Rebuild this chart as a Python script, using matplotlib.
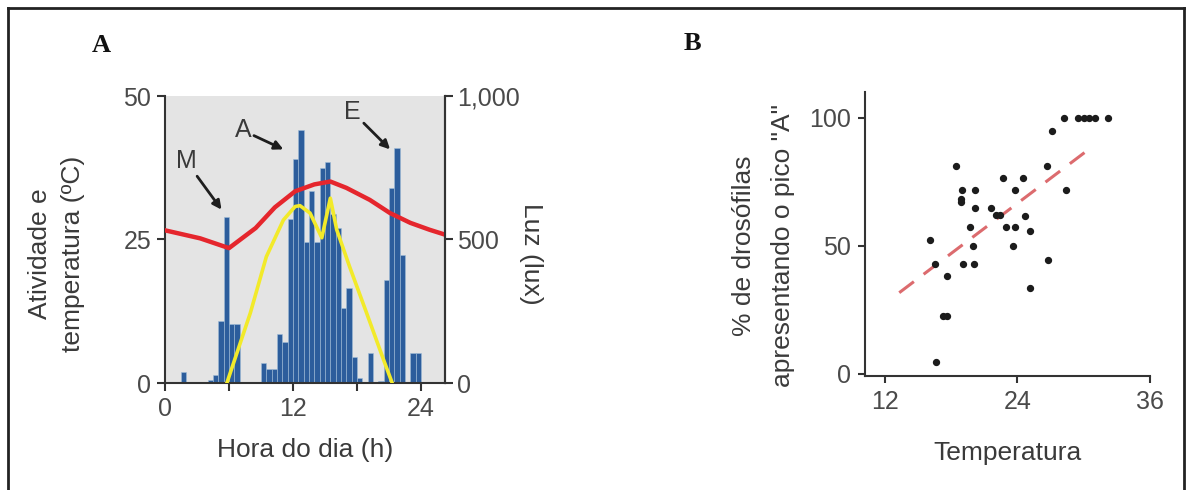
import matplotlib.pyplot as plt
from matplotlib.lines import Line2D
import numpy as np

plt.rcParams['font.family'] = ['Liberation Sans', 'DejaVu Sans']

# Panel A: activity histogram (0.5 h bins)
bin_starts = np.arange(0, 24.5, 0.5)
activity = [0, 0, 0, 2, 0, 0, 0, 0, 0.6, 1.4,
            10.8, 29, 10.2, 10.2, 0, 0, 0, 0, 3.5, 2.5,
            2.5, 8.5, 7.2, 28.5, 39, 44, 24.5, 33.5, 24.5, 37.5,
            38.5, 29.5, 27, 13, 16.5, 4.5, 0.8, 0, 5.2, 0,
            0.4, 18, 34, 41, 22.3, 0, 5.2, 5.2, 0]

# temperature (ºC)
temp_h = [0, 3.3, 6, 8.5, 10.3, 12.2, 14.0, 15.5, 17.0, 19.2, 21.1, 23.0, 24.8, 26.5]
temp_c = [26.6, 25.2, 23.5, 27.0, 30.6, 33.4, 34.6, 35.1, 34.0, 31.9, 29.6, 27.9, 26.7, 25.7]

# light (lux)
lux_h = [5.8, 8.0, 9.5, 11.1, 12.2, 12.65, 13.6, 14.7, 15.5, 16.1, 17.3, 18.9, 20.5, 21.3]
lux = [0, 244, 440, 568, 615, 618, 592, 506, 644, 534, 406, 244, 80, 0]

# Panel B: scatter
temp_b = [28.2, 29.5, 30.0, 30.5, 31.0, 32.2, 27.1, 18.4, 26.7, 22.7,
          24.5, 19.0, 20.2, 23.8, 28.4, 18.9, 18.9, 20.2, 21.6, 22.1,
          22.4, 24.7, 19.7, 23.0, 23.8, 25.1, 16.1, 20.0, 23.6, 26.8,
          16.5, 19.1, 20.1, 17.6, 25.1, 17.3, 17.6, 16.6]
pct_b = [100, 100, 100, 100, 100, 100, 94.6, 81, 81, 76.5,
         76.5, 71.9, 71.9, 71.9, 71.9, 68.4, 67, 64.6, 64.6, 62,
         62, 61.6, 57.5, 57.5, 57.5, 55.9, 52.4, 50, 50, 44.6,
         42.9, 42.9, 42.9, 38.1, 33.4, 22.7, 22.7, 4.5]
trend_x = [13.3, 30.3]
trend_y = [31.7, 87.1]

W, H = 1192, 490
fig = plt.figure(figsize=(W / 100, H / 100), dpi=100)

def fx(px):
    return px / W

def fy(py):
    return 1 - py / H

text_col = '#3a3a3a'
tick_col = '#4a4a4a'

# ---------- panel A ----------
ax = fig.add_axes([fx(165), fy(383), fx(445) - fx(165), fy(96) - fy(383)])
ax.set_facecolor('#e4e4e4')
ax.bar(bin_starts, activity, width=0.5, align='edge', color='#2c5d9c',
       edgecolor='#9fbbd8', linewidth=0.4, zorder=2)
ax.plot(temp_h, temp_c, color='#e5262d', lw=3.2, zorder=4, solid_joinstyle='round')
ax.set_xlim(0, 26.25)
ax.set_ylim(0, 50)
ax.set_xticks([0, 6, 12, 18, 24])
ax.set_xticklabels(['0', '', '12', '', '24'])
ax.set_yticks([0, 25, 50])
ax.spines['top'].set_visible(False)
for s in ['left', 'bottom', 'right']:
    ax.spines[s].set_color('#333333')
    ax.spines[s].set_linewidth(1.5)
ax.tick_params(axis='both', direction='out', length=6, width=1.5, color='#333333',
               labelsize=18, labelcolor=tick_col, pad=4)
ax.set_xlabel('Hora do dia (h)', fontsize=19, color=text_col)
ax.xaxis.set_label_coords(0.5, -0.19)
ax.set_ylabel('Atividade e\ntemperatura (ºC)', fontsize=19, color=text_col, linespacing=1.5)
ax.yaxis.set_label_coords(-0.285, 0.45)

ax2 = ax.twinx()
ax2.plot(lux_h, lux, color='#f2ea2a', lw=2.6, zorder=3)
ax2.set_ylim(0, 1000)
ax2.set_yticks([0, 500, 1000])
ax2.set_yticklabels(['0', '500', '1,000'])
for s in ['top', 'left', 'bottom']:
    ax2.spines[s].set_visible(False)
ax2.spines['right'].set_color('#333333')
ax2.spines['right'].set_linewidth(1.5)
ax2.tick_params(axis='y', direction='out', length=6, width=1.5, color='#333333',
                labelsize=18, labelcolor=tick_col, pad=3)
ax2.set_ylabel('Luz (lux)', fontsize=19, color=text_col, rotation=270, va='bottom', ha='center')
ax2.yaxis.set_label_coords(1.265, 0.45)

arrow = dict(arrowstyle='-|>', color='#1e1e1e', lw=2, mutation_scale=13, shrinkA=0, shrinkB=0)
ax.annotate('M', xy=(5.3, 30.2), xytext=(2.0, 38.6), fontsize=18, color=text_col,
            ha='center', va='center', arrowprops=arrow, zorder=6)
ax.annotate('A', xy=(11.1, 40.7), xytext=(7.3, 44.0), fontsize=18, color=text_col,
            ha='center', va='center', arrowprops=arrow, zorder=6)
ax.annotate('E', xy=(21.1, 40.7), xytext=(17.6, 47.2), fontsize=18, color=text_col,
            ha='center', va='center', arrowprops=arrow, zorder=6)

# ---------- panel B ----------
bx = fig.add_axes([fx(865), fy(376), fx(1150) - fx(865), fy(92) - fy(376)])
bx.scatter(temp_b, pct_b, s=18, color='#1c1c1c', zorder=3)
bx.plot(trend_x, trend_y, color='#dc6b6e', lw=2.2, dashes=(6, 4), zorder=2)
bx.set_xlim(10.2, 36)
bx.set_ylim(-0.8, 110)
bx.set_xticks([12, 24, 36])
bx.set_yticks([0, 50, 100])
bx.spines['top'].set_visible(False)
bx.spines['right'].set_visible(False)
for s in ['left', 'bottom']:
    bx.spines[s].set_color('#333333')
    bx.spines[s].set_linewidth(1.5)
bx.tick_params(axis='both', direction='out', length=5, width=1.5, color='#333333',
               labelsize=18, labelcolor=tick_col, pad=5)
bx.set_xlabel('Temperatura', fontsize=19, color=text_col)
bx.xaxis.set_label_coords(0.5, -0.23)
bx.set_ylabel('% de drosófilas\napresentando o pico "A"', fontsize=19, color=text_col,
              linespacing=1.8)
bx.yaxis.set_label_coords(-0.245, 0.46)

# panel letters
fig.text(fx(92), fy(46), 'A', fontsize=19, fontweight='bold', family='Liberation Serif',
         va='center', ha='left', color='#111111')
fig.text(fx(684), fy(44), 'B', fontsize=19, fontweight='bold', family='Liberation Serif',
         va='center', ha='left', color='#111111')

# frame around the figure
for xs, ys in [([fx(8), fx(8)], [fy(8), 0]), ([fx(8), fx(1184)], [fy(8), fy(8)]),
               ([fx(1184), fx(1184)], [fy(8), 0])]:
    fig.add_artist(Line2D(xs, ys, color='#222222', lw=2))

fig.savefig('out.png', dpi=100)
